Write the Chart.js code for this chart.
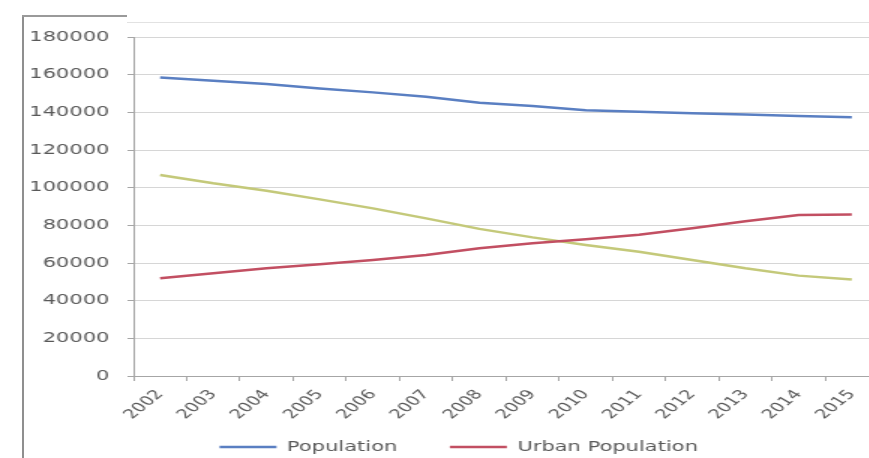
<!DOCTYPE html>
<html>
<head>
<meta charset="utf-8">
<script src="https://cdn.jsdelivr.net/npm/chart.js@4/dist/chart.umd.min.js"></script>
<style>
  html, body { margin: 0; padding: 0; width: 869px; height: 458px; overflow: hidden; background: #ffffff; }
  #frame { position: absolute; left: 22px; top: 15px; width: 900px; height: 460px;
           border-left: 2px solid #8f8f8f; }
  #frameTop { position: absolute; left: 22px; top: 15px; width: 105px; height: 2px; background: #9a9a9a; }
  #frameTop2 { position: absolute; left: 127px; top: 22px; width: 760px; height: 1px; background: #e2e2e2; }
  /* the chart is laid out on a narrow canvas and widened 1.5x */
  #stage { position: absolute; left: 0; top: 0; width: 600px; height: 464px;
           transform: scaleX(1.5); transform-origin: 0 0; }
</style>
</head>
<body>
<div id="frame"></div>
<div id="frameTop"></div>
<div id="frameTop2"></div>
<div id="stage"><canvas id="c" width="600" height="464"></canvas></div>
<script>
// Years on the category axis
const years = ['2002', '2003', '2004', '2005', '2006', '2007', '2008',
               '2009', '2010', '2011', '2012', '2013', '2014', '2015'];

// Total population
const population = [158500, 156800, 155000, 152700, 150600, 148300, 145100,
                    143400, 141100, 140300, 139500, 138800, 138100, 137400];

// Urban population
const urbanPopulation = [51900, 54500, 57200, 59300, 61600, 64200, 67800,
                         70500, 72600, 75000, 78500, 82200, 85500, 85700];

// Rural population
const ruralPopulation = [106700, 102300, 98400, 93800, 89000, 83700, 78100,
                         73600, 69600, 66000, 61600, 57200, 53300, 51200];

// Value axis ticks
const yMin = 0;
const yMax = 180000;
const yStep = 20000;

const FONT = 'DejaVu Sans';
const TEXT = '#595959';

// Tick labels are allowed to run into the surrounding padding:
// widen the boxes the scales clip their labels to.
const labelRoom = {
  id: 'labelRoom',
  afterLayout(chart) {
    chart.scales.y.left = 0;
    chart.scales.x.bottom = chart.height;
  }
};

new Chart(document.getElementById('c'), {
  type: 'line',
  data: {
    labels: years,
    datasets: [
      { label: 'Population', data: population, borderColor: '#5a7fc2',
        backgroundColor: '#5a7fc2', borderWidth: 2.5, pointRadius: 0, tension: 0 },
      { label: 'Urban Population', data: urbanPopulation, borderColor: '#c24f62',
        backgroundColor: '#c24f62', borderWidth: 2.5, pointRadius: 0, tension: 0 },
      { label: 'Rural Population', data: ruralPopulation, borderColor: '#c4c97a',
        backgroundColor: '#c4c97a', borderWidth: 2.5, pointRadius: 0, tension: 0 }
    ]
  },
  plugins: [labelRoom],
  options: {
    responsive: false,
    devicePixelRatio: 1,
    animation: false,
    layout: { padding: { left: 26, right: 14.4, top: 37, bottom: 0 } },
    plugins: {
      tooltip: { enabled: false },
      legend: {
        position: 'bottom',
        labels: {
          usePointStyle: true,
          pointStyle: 'line',
          pointStyleWidth: 38,
          padding: 35,
          color: TEXT,
          font: { family: FONT, size: 14 },
          filter: (item) => item.datasetIndex !== 2
        }
      }
    },
    scales: {
      x: {
        offset: true,
        grid: { offset: true, drawOnChartArea: false, tickLength: 5, color: '#a6a6a6' },
        border: { color: '#a6a6a6', width: 1 },
        ticks: { minRotation: 50, maxRotation: 50, padding: 6, color: TEXT,
                 font: { family: FONT, size: 13 } },
        afterFit: (s) => { s.height = 29; }
      },
      y: {
        min: yMin,
        max: yMax,
        ticks: { stepSize: yStep, padding: 12, color: TEXT,
                 font: { family: FONT, size: 14 },
                 callback: (v) => String(v) },
        grid: { color: '#d6d6d6', tickColor: '#a6a6a6', tickLength: 4 },
        border: { color: '#a6a6a6', width: 1 },
        afterFit: (s) => { s.width = 63; }
      }
    }
  }
});
</script>
</body>
</html>
